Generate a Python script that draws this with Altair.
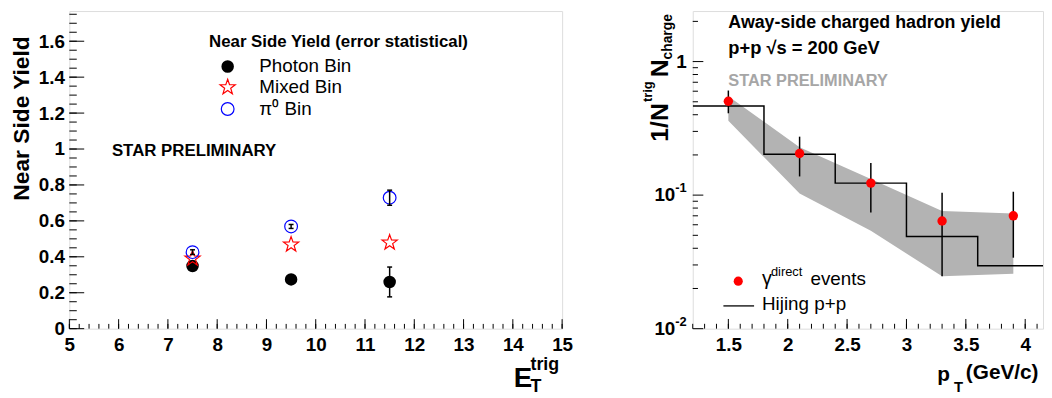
import math
import pandas as pd
import altair as alt

FONT = "Liberation Sans"

# ---------------- left panel data ----------------
et_trig = [7.5, 9.5, 11.5]
photon_yield = [0.349, 0.274, 0.260]
photon_err = [0.008, 0.008, 0.083]
mixed_yield = [0.39, 0.468, 0.479]
pi0_yield = [0.426, 0.569, 0.729]
pi0_err = [0.013, 0.011, 0.042]

left_x_ticks = [5, 6, 7, 8, 9, 10, 11, 12, 13, 14, 15]
left_y_ticks = [0, 0.2, 0.4, 0.6, 0.8, 1.0, 1.2, 1.4, 1.6]
left_x_minor = [round(5 + 0.2 * i, 2) for i in range(51)]
left_y_minor = [round(0.05 * i, 2) for i in range(36)]

# ---------------- right panel data ----------------
pt = [1.5, 2.1, 2.7, 3.3, 3.9]
gamma_yield = [0.505, 0.205, 0.123, 0.064, 0.070]
gamma_lo = [0.41, 0.138, 0.074, 0.0247, 0.034]
gamma_hi = [0.607, 0.274, 0.174, 0.104, 0.106]
band_hi = [0.55, 0.228, 0.132, 0.076, 0.073]
band_lo = [0.36, 0.103, 0.054, 0.0247, 0.0258]
hijing_edges = [1.2, 1.8, 2.4, 3.0, 3.6, 4.2]
hijing_yield = [0.465, 0.202, 0.123, 0.049, 0.0296, 0.0296]

right_x_ticks = [1.5, 2, 2.5, 3, 3.5, 4]
right_x_minor = [round(1.2 + 0.1 * i, 2) for i in range(30)]
right_y_labels = [0.01, 0.1, 1]
right_y_base = ["10", "10", "1"]
right_y_exp = ["-2", "-1", ""]
right_y_minor = [m * d for d in (0.01, 0.1, 1) for m in range(2, 10) if m * d < 2.39]

LW, LH = 498, 321
RW, RH = 354, 321

# star symbol path (unit coordinates)
_pts = []
for k in range(10):
    r = 1.0 if k % 2 == 0 else 0.4
    a = -math.pi / 2 + k * math.pi / 5
    _pts.append(f"{r * math.cos(a):.3f},{r * math.sin(a):.3f}")
STAR = "M" + " L".join(_pts) + " Z"

dummy = pd.DataFrame({"_": [0]})

# ================= LEFT PANEL =================
xl = alt.Scale(domain=[5, 15], nice=False, zero=False)
yl = alt.Scale(domain=[0, 1.768], nice=False, zero=False)
lxaxis = alt.Axis(values=left_x_ticks, format="d", labelFont=FONT, labelFontWeight="bold",
                  labelFontSize=19, labelColor="black", labelPadding=7, labelFlush=False,
                  labelOverlap=False, ticks=False, tickSize=0, domain=False, grid=False, title=None)
lyaxis = alt.Axis(values=left_y_ticks, format="~g", labelFont=FONT, labelFontWeight="bold",
                  labelFontSize=19, labelColor="black", labelPadding=5, labelFlush=False,
                  labelOverlap=False, ticks=False, tickSize=0, domain=False, grid=False,
                  title="Near Side Yield", titleFont=FONT, titleFontSize=23, titleFontWeight="bold",
                  titleColor="black", titleAnchor="end", titleAlign="right", titleY=25, titlePadding=5)

def LX(f="x"):
    return alt.X(f"{f}:Q", scale=xl, axis=lxaxis)

def LY(f="y"):
    return alt.Y(f"{f}:Q", scale=yl, axis=lyaxis)

ly_major = alt.Chart(pd.DataFrame({"y": left_y_ticks})).mark_rule(color="black").encode(
    y=LY(), x=alt.value(0), x2=alt.value(15))
ly_minor = alt.Chart(pd.DataFrame({"y": left_y_minor})).mark_rule(color="black").encode(
    y=LY(), x=alt.value(0), x2=alt.value(7.5))
lx_major = alt.Chart(pd.DataFrame({"x": left_x_ticks})).mark_rule(color="black").encode(
    x=LX(), y=alt.value(LH), y2=alt.value(LH - 9.6))
lx_minor = alt.Chart(pd.DataFrame({"x": left_x_minor})).mark_rule(color="black").encode(
    x=LX(), y=alt.value(LH), y2=alt.value(LH - 4.8))

df_ph = pd.DataFrame({"x": et_trig, "y": photon_yield,
                      "lo": [v - e for v, e in zip(photon_yield, photon_err)],
                      "hi": [v + e for v, e in zip(photon_yield, photon_err)]})
df_mx = pd.DataFrame({"x": et_trig, "y": mixed_yield})
df_pi = pd.DataFrame({"x": et_trig, "y": pi0_yield,
                      "lo": [v - e for v, e in zip(pi0_yield, pi0_err)],
                      "hi": [v + e for v, e in zip(pi0_yield, pi0_err)]})

ph_pts = alt.Chart(df_ph).mark_point(shape="circle", filled=True, color="black", size=160,
                                      opacity=1).encode(x=LX(), y=LY())
mx_pts = alt.Chart(df_mx).mark_point(shape=STAR, filled=False, color="red", size=260,
                                      strokeWidth=1.2, opacity=1).encode(x=LX(), y=LY())
pi_pts = alt.Chart(df_pi).mark_point(shape="circle", filled=False, color="blue", size=165,
                                      strokeWidth=1.2, opacity=1).encode(x=LX(), y=LY())

def errs(df):
    bar = alt.Chart(df).mark_rule(color="black", strokeWidth=1.5).encode(
        x=LX(), y=LY("lo"), y2="hi:Q")
    cap_lo = alt.Chart(df).mark_tick(orient="horizontal", size=5, thickness=1.5,
                                     color="black", opacity=1).encode(x=LX(), y=LY("lo"))
    cap_hi = alt.Chart(df).mark_tick(orient="horizontal", size=5, thickness=1.5,
                                     color="black", opacity=1).encode(x=LX(), y=LY("hi"))
    return [bar, cap_lo, cap_hi]

def txt(text, x, y, size, bold=False, align="left", color="black", angle=0, baseline="alphabetic"):
    kw = dict(text=text, font=FONT, fontSize=size, align=align, baseline=baseline, color=color)
    if bold:
        kw["fontWeight"] = "bold"
    if angle:
        kw["angle"] = angle
    return alt.Chart(dummy).mark_text(**kw).encode(x=alt.value(x), y=alt.value(y))

def sym(x, y, **kw):
    return alt.Chart(dummy).mark_point(opacity=1, **kw).encode(x=alt.value(x), y=alt.value(y))

left_legend = [
    txt("Near Side Yield (error statistical)", 272, 36, 17, bold=True, align="center"),
    sym(160, 56, shape="circle", filled=True, color="black", size=160),
    sym(160, 77, shape=STAR, filled=False, color="red", size=260, strokeWidth=1.2),
    sym(160, 99, shape="circle", filled=False, color="blue", size=165, strokeWidth=1.2),
    txt("Photon Bin", 192, 56, 19, baseline="middle"),
    txt("Mixed Bin", 192, 77, 19, baseline="middle"),
    txt("\u03c0\u2070 Bin", 192, 99, 19, baseline="middle"),
    txt("STAR PRELIMINARY", 43, 146, 17, bold=True),
    txt("E", 449, 380, 28, bold=True),
    txt("T", 466, 385, 18, bold=True),
    txt("trig", 466, 363, 18, bold=True),
]

left = alt.layer(ly_major, ly_minor, lx_major, lx_minor, ph_pts, mx_pts, pi_pts,
                 *errs(df_ph), *errs(df_pi), *left_legend).properties(width=LW, height=LH)

# ================= RIGHT PANEL =================
xr = alt.Scale(domain=[1.2, 4.15], nice=False, zero=False)
yr = alt.Scale(type="log", domain=[0.01, 2.39], nice=False)
rxaxis = alt.Axis(values=right_x_ticks, format="~g", labelFont=FONT, labelFontWeight="bold",
                  labelFontSize=19, labelColor="black", labelPadding=7, labelFlush=False,
                  labelOverlap=False, ticks=False, tickSize=0, domain=False, grid=False, title=None)

def RX(f="x"):
    return alt.X(f"{f}:Q", scale=xr, axis=rxaxis)

def RY(f="y"):
    return alt.Y(f"{f}:Q", scale=yr, axis=None)

df_band = pd.DataFrame({"x": pt, "y": band_hi, "y2": band_lo})
df_g = pd.DataFrame({"x": pt, "y": gamma_yield, "lo": gamma_lo, "hi": gamma_hi})
df_h = pd.DataFrame({"x": hijing_edges, "y": hijing_yield})
df_ylab = pd.DataFrame({"y": right_y_labels, "base": right_y_base, "exp": right_y_exp})

band = alt.Chart(df_band).mark_area(color="#b3b3b3", opacity=1).encode(x=RX(), y=RY(), y2="y2:Q")
hij = alt.Chart(df_h).mark_line(interpolate="step-after", color="black", strokeWidth=1.5,
                                clip=True).encode(x=RX(), y=RY())
gerr = alt.Chart(df_g).mark_rule(color="black", strokeWidth=1.5).encode(x=RX(), y=RY("lo"), y2="hi:Q")
gpts = alt.Chart(df_g).mark_circle(color="red", size=90, opacity=1).encode(x=RX(), y=RY())

ry_major = alt.Chart(pd.DataFrame({"y": right_y_labels})).mark_rule(color="black").encode(
    y=RY(), x=alt.value(0), x2=alt.value(10.7))
ry_minor = alt.Chart(pd.DataFrame({"y": right_y_minor})).mark_rule(color="black").encode(
    y=RY(), x=alt.value(0), x2=alt.value(5.3))
rx_major = alt.Chart(pd.DataFrame({"x": right_x_ticks})).mark_rule(color="black").encode(
    x=RX(), y=alt.value(RH), y2=alt.value(RH - 9.8))
rx_minor = alt.Chart(pd.DataFrame({"x": right_x_minor})).mark_rule(color="black").encode(
    x=RX(), y=alt.value(RH), y2=alt.value(RH - 4.9))

ylab_base = alt.Chart(df_ylab).transform_filter("datum.exp != ''").mark_text(
    font=FONT, fontSize=19, fontWeight="bold", align="right", baseline="middle", color="black"
).encode(y=RY(), x=alt.value(-17.6), text="base:N")
ylab_exp = alt.Chart(df_ylab).transform_filter("datum.exp != ''").mark_text(
    font=FONT, fontSize=13, fontWeight="bold", align="left", baseline="middle", color="black", dy=-7
).encode(y=RY(), x=alt.value(-17.6), text="exp:N")
ylab_one = alt.Chart(df_ylab).transform_filter("datum.exp == ''").mark_text(
    font=FONT, fontSize=19, fontWeight="bold", align="right", baseline="middle", color="black"
).encode(y=RY(), x=alt.value(-6), text="base:N")

right_text = [
    txt("Away-side charged hadron yield", 36, 17, 18, bold=True),
    txt("p+p \u221as = 200 GeV", 36, 43, 18.5, bold=True),
    txt("STAR PRELIMINARY", 36, 76, 16.5, bold=True, color="#a6a6a6"),
    alt.Chart(dummy).mark_circle(color="red", size=85, opacity=1).encode(
        x=alt.value(46), y=alt.value(273)),
    txt("\u03b3", 70, 277, 20),
    txt("direct", 79, 268, 13),
    txt("events", 119, 277, 19),
    alt.Chart(dummy).mark_rule(color="black", strokeWidth=1.3).encode(
        x=alt.value(31), x2=alt.value(62), y=alt.value(298)),
    txt("Hijing p+p", 70, 302, 19),
    txt("p", 247, 374, 21, bold=True),
    txt("T", 264, 385, 15, bold=True),
    txt("(GeV/c)", 276, 372, 21, bold=True),
    # rotated y title
    txt("1/N", -25, 132, 25, bold=True, angle=270),
    txt("trig", -41, 92, 13, bold=True, angle=270),
    txt("N", -25, 67, 25, bold=True, angle=270),
    txt("charge", -21, 49, 14, bold=True, angle=270),
]

right = alt.layer(band, hij, gerr, gpts, ry_major, ry_minor, rx_major, rx_minor,
                  ylab_base, ylab_exp, ylab_one, *right_text).properties(width=RW, height=RH)

chart = alt.hconcat(left, right, spacing=68).properties(
    padding={"left": 2, "top": 0, "right": 0, "bottom": 0}
).configure_view(stroke="black", strokeWidth=1).configure(font=FONT)

chart.save("out.html", embed_options={"renderer": "svg", "actions": False})
